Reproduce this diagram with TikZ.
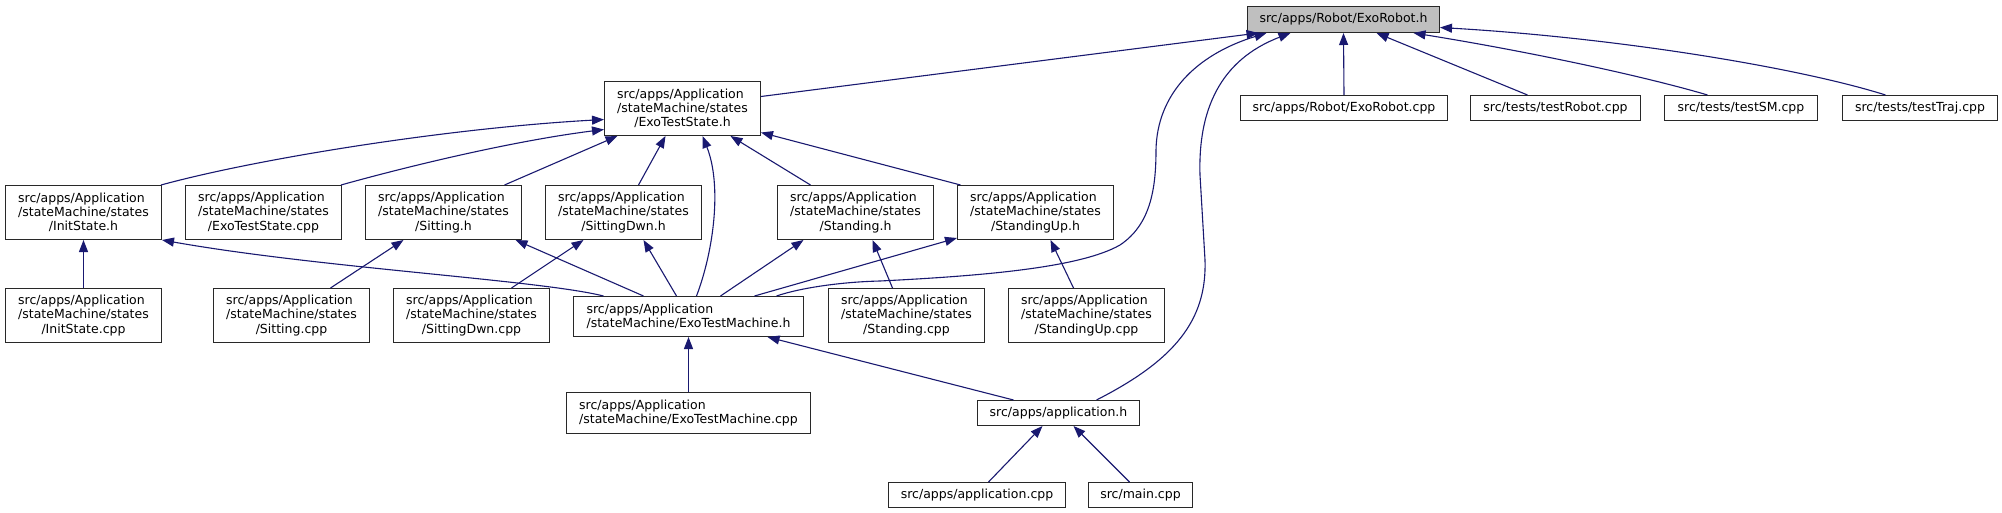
\documentclass[tikz,border=0pt]{standalone}
\usepackage{fontspec}
\setmainfont{DejaVu Sans}
\usetikzlibrary{arrows.meta}
\definecolor{edgecol}{RGB}{25,25,112}
\definecolor{boxcol}{RGB}{40,40,40}
\definecolor{rootfill}{RGB}{191,191,191}
\newlength\applw
\newcommand\appline[1]{\settowidth{\applw}{#1}\makebox[\applw][l]{src/apps/Application}}
\tikzset{
  box/.style={draw=boxcol, line width=1pt, fill=white, rectangle, inner sep=0pt,
    align=center, anchor=north west, font=\fontsize{12.5}{14.3}\selectfont},
  w3/.style={minimum width=156pt, minimum height=54pt},
  one/.style={minimum height=25pt},
  dep/.style={draw=edgecol, line width=1.1pt, -{Triangle[length=12pt,width=9pt]}}
}
\begin{document}
\begin{tikzpicture}[x=1pt,y=-1pt]
\fill[white] (0,0) rectangle (2002,513);
\useasboundingbox (0,0) rectangle (2002,513);
% row 0
\node[box,minimum width=192pt,minimum height=26pt,fill=rootfill] (er) at (1247,6) {src/apps/Robot/ExoRobot.h};
% row 1
\node[box,w3] (ets) at (604,81) {\appline{/stateMachine/states}\\/stateMachine/states\\/ExoTestState.h};
\node[box,one,minimum width=207pt] (erc) at (1240,95) {src/apps/Robot/ExoRobot.cpp};
\node[box,one,minimum width=170pt] (tr) at (1470,95) {src/tests/testRobot.cpp};
\node[box,one,minimum width=153pt] (tsm) at (1664,95) {src/tests/testSM.cpp};
\node[box,one,minimum width=155pt] (tt) at (1842,95) {src/tests/testTraj.cpp};
% row 2
\node[box,w3] (ish) at (5,185) {\appline{/stateMachine/states}\\/stateMachine/states\\/InitState.h};
\node[box,w3] (etc) at (185,185) {\appline{/stateMachine/states}\\/stateMachine/states\\/ExoTestState.cpp};
\node[box,w3] (sh) at (365,185) {\appline{/stateMachine/states}\\/stateMachine/states\\/Sitting.h};
\node[box,w3] (sdh) at (545,185) {\appline{/stateMachine/states}\\/stateMachine/states\\/SittingDwn.h};
\node[box,w3] (sth) at (777,185) {\appline{/stateMachine/states}\\/stateMachine/states\\/Standing.h};
\node[box,w3] (suh) at (957,185) {\appline{/stateMachine/states}\\/stateMachine/states\\/StandingUp.h};
% row 3
\node[box,w3] (isc) at (5,288) {\appline{/stateMachine/states}\\/stateMachine/states\\/InitState.cpp};
\node[box,w3] (sc) at (213,288) {\appline{/stateMachine/states}\\/stateMachine/states\\/Sitting.cpp};
\node[box,w3] (sdc) at (393,288) {\appline{/stateMachine/states}\\/stateMachine/states\\/SittingDwn.cpp};
\node[box,minimum width=230pt,minimum height=40pt] (etm) at (573,296) {\appline{/stateMachine/ExoTestMachine.h}\\/stateMachine/ExoTestMachine.h};
\node[box,w3] (stc) at (828,288) {\appline{/stateMachine/states}\\/stateMachine/states\\/Standing.cpp};
\node[box,w3] (suc) at (1008,288) {\appline{/stateMachine/states}\\/stateMachine/states\\/StandingUp.cpp};
% row 4
\node[box,minimum width=244pt,minimum height=41pt] (etmc) at (566,392) {\appline{/stateMachine/ExoTestMachine.cpp}\\/stateMachine/ExoTestMachine.cpp};
\node[box,one,minimum width=162pt] (app) at (977,400) {src/apps/application.h};
% row 5
\node[box,one,minimum width=177pt] (appc) at (888,482) {src/apps/application.cpp};
\node[box,one,minimum width=104pt] (mainc) at (1088,482) {src/main.cpp};

% edges into ExoRobot.h
\draw[dep] ([yshift=12pt]ets.east) -- ([xshift=-85pt]er.south);
\draw[dep] ([xshift=88pt]etm.north) .. controls (800,288) and (840,282) .. (880,281) .. controls (980,276) and (1080,268) .. (1120,245) .. controls (1150,225) and (1156,190) .. (1156,150) .. controls (1157,95) and (1195,55) .. ([xshift=-77pt]er.south);
\draw[dep] ([xshift=38pt]app.north) .. controls (1175,360) and (1207,320) .. (1205,260) -- (1200,175) .. controls (1198,110) and (1220,60) .. ([xshift=-53pt]er.south);
\draw[dep] (erc.north) -- (er.south);
\draw[dep] ([xshift=-28pt]tr.north) -- ([xshift=33pt]er.south);
\draw[dep] ([xshift=-33.5pt]tsm.north) .. controls (1640,75) and (1520,50) .. ([xshift=70pt]er.south);
\draw[dep] ([xshift=-34.5pt]tt.north) .. controls (1800,68) and (1620,38) .. ([yshift=-8pt]er.east);
% edges into ExoTestState.h
\draw[dep] ([xshift=-1pt]ish.north east) .. controls (260,158) and (450,128) .. ([yshift=-11pt]ets.west);
\draw[dep] ([xshift=-1pt]etc.north east) .. controls (420,163) and (520,140) .. ([yshift=-21pt]ets.west);
\draw[dep] ([xshift=61pt]sh.north) -- ([xshift=-65pt]ets.south);
\draw[dep] ([xshift=15pt]sdh.north) -- ([xshift=-17pt]ets.south);
\draw[dep] ([xshift=8pt]etm.north) .. controls (714,250) and (722,185) .. ([xshift=20pt]ets.south);
\draw[dep] ([xshift=-45pt]sth.north) -- ([xshift=48pt]ets.south);
\draw[dep] ([xshift=-75pt]suh.north) -- ([yshift=-24pt]ets.east);
% edges into state headers
\draw[dep] (isc.north) -- (ish.south);
\draw[dep] ([xshift=-85pt]etm.north) .. controls (540,280) and (320,268) .. (ish.south east);
\draw[dep] ([xshift=39pt]sc.north) -- ([xshift=-40pt]sh.south);
\draw[dep] ([xshift=-45pt]etm.north) -- ([xshift=72pt]sh.south);
\draw[dep] ([xshift=40pt]sdc.north) -- ([xshift=-40pt]sdh.south);
\draw[dep] ([xshift=-12pt]etm.north) -- ([xshift=20pt]sdh.south);
\draw[dep] ([xshift=-14pt]stc.north) -- ([xshift=17pt]sth.south);
\draw[dep] ([xshift=32pt]etm.north) -- ([xshift=-52pt]sth.south);
\draw[dep] ([xshift=66pt]etm.north) -- ([yshift=2pt]suh.south west);
\draw[dep] ([xshift=-13pt]suc.north) -- ([xshift=15pt]suh.south);
% lower part
\draw[dep] (etmc.north) -- (etm.south);
\draw[dep] ([xshift=-45pt]app.north) -- ([xshift=79pt]etm.south);
\draw[dep] ([xshift=11.5pt]appc.north) -- ([xshift=-16pt]app.south);
\draw[dep] ([xshift=-11pt]mainc.north) -- ([xshift=15pt]app.south);
\end{tikzpicture}
\end{document}
